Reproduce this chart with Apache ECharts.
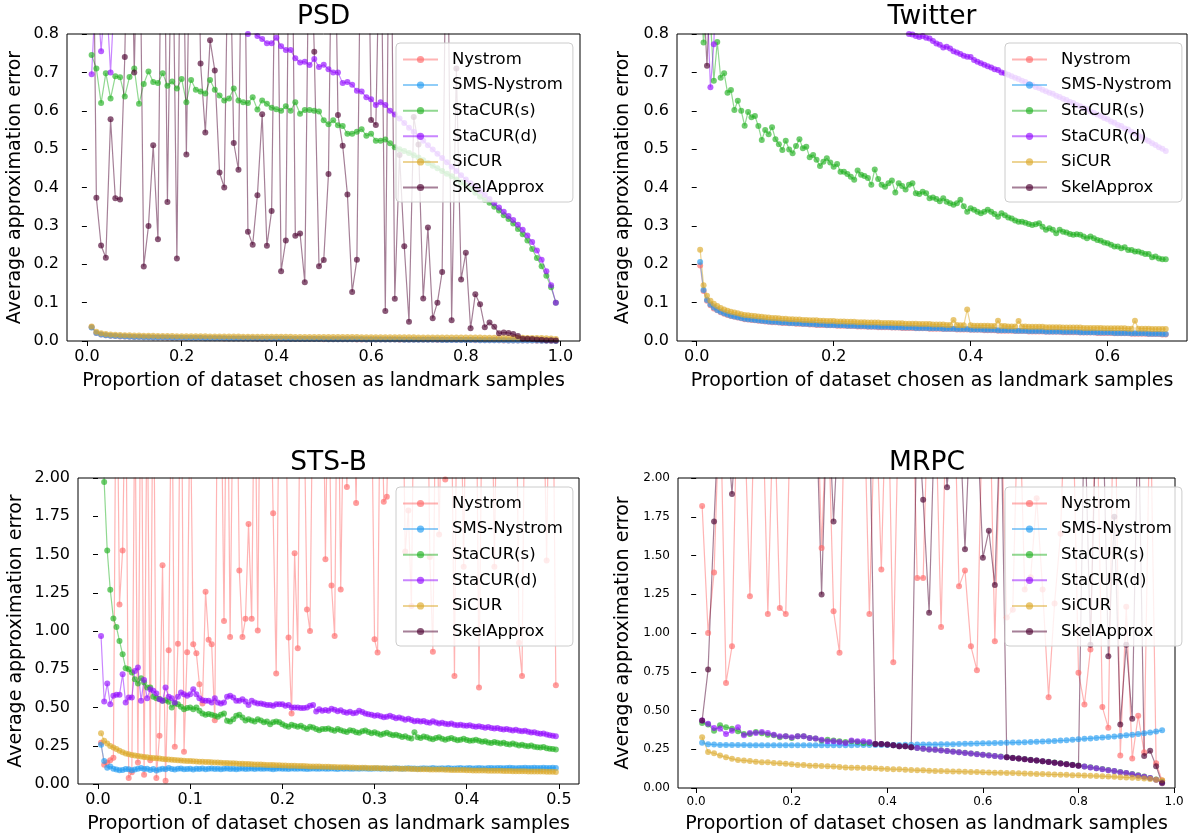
<!DOCTYPE html>
<html><head><meta charset="utf-8">
<script src="https://cdn.jsdelivr.net/npm/echarts@6/dist/echarts.min.js"></script>
<style>html,body{margin:0;padding:0;background:#fff}#c{width:1188px;height:835px}</style>
</head><body><div id="c"></div>
<script>
const methods=['Nystrom','SMS-Nystrom','StaCUR(s)','StaCUR(d)','SiCUR','SkelApprox'];
const titles=['PSD','Twitter','STS-B','MRPC'];
const xName='Proportion of dataset chosen as landmark samples';
const yName='Average approximation error';
const psdXTicks=[0,0.2,0.4,0.6,0.8,1.0];
const twXTicks=[0,0.2,0.4,0.6];
const stsXTicks=[0,0.1,0.2,0.3,0.4,0.5];
const mrpcXTicks=[0,0.2,0.4,0.6,0.8,1.0];

// ---------- PSD ----------
const psdX=[.01,.02,.03,.04,.05,.06,.07,.08,.09,.10,.11,.12,.13,.14,.15,.16,.17,.18,.19,.20,.21,.22,.23,.24,.25,.26,.27,.28,.29,.30,.31,.32,.33,.34,.35,.36,.37,.38,.39,.40,.41,.42,.43,.44,.45,.46,.47,.48,.49,.50,.51,.52,.53,.54,.55,.56,.57,.58,.59,.60,.61,.62,.63,.64,.65,.66,.67,.68,.69,.70,.71,.72,.73,.74,.75,.76,.77,.78,.79,.80,.81,.82,.83,.84,.85,.86,.87,.88,.89,.90,.91,.92,.93,.94,.95,.96,.97,.98,.99];
const psdNys=[.036,.021,.017,.015,.0138,.0128,.012,.0115,.011,.0106,
.0102,.0099,.0096,.0093,.0091,.0089,.0087,.0085,.0083,.0081,
.0079,.0078,.0076,.0075,.0073,.0072,.0071,.0069,.0068,.0067,
.0066,.0065,.0064,.0063,.0062,.0061,.0060,.0059,.0058,.0057,
.0056,.0055,.0054,.0053,.0052,.0052,.0051,.0050,.0049,.0048,
.0047,.0046,.0046,.0045,.0044,.0043,.0042,.0042,.0041,.0040,
.0039,.0038,.0038,.0037,.0036,.0035,.0034,.0034,.0033,.0032,
.0031,.0030,.0030,.0029,.0028,.0027,.0026,.0025,.0025,.0024,
.0023,.0022,.0021,.0020,.0019,.0018,.0017,.0016,.0015,.0014,
.0013,.0012,.0011,.0010,.0009,.0007,.0005,.0003,.0002];
const psdSms=[.035,.021,.017,.015,.014,.013,.0122,.0116,.0111,.0107,
.0103,.0100,.0097,.0094,.0092,.0090,.0088,.0086,.0084,.0082,
.0080,.0079,.0077,.0076,.0074,.0073,.0072,.0070,.0069,.0068,
.0067,.0066,.0065,.0064,.0063,.0062,.0061,.0060,.0059,.0058,
.0057,.0056,.0055,.0054,.0053,.0053,.0052,.0051,.0050,.0049,
.0048,.0047,.0047,.0046,.0045,.0044,.0043,.0043,.0042,.0041,
.0040,.0039,.0039,.0038,.0037,.0036,.0035,.0035,.0034,.0033,
.0032,.0031,.0031,.0030,.0029,.0028,.0027,.0026,.0026,.0025,
.0024,.0023,.0022,.0021,.0020,.0019,.0018,.0017,.0016,.0015,
.0014,.0013,.0012,.0011,.0010,.0008,.0006,.0004,.0002];
const psdStaS=[.745,.710,.620,.698,.632,.690,.687,.637,.688,.710,
.618,.670,.702,.675,.672,.698,.665,.676,.658,.683,
.622,.680,.655,.650,.645,.680,.655,.640,.627,.632,
.658,.627,.622,.620,.635,.603,.627,.618,.608,.604,
.600,.612,.600,.622,.592,.602,.602,.600,.598,.575,
.565,.575,.562,.560,.540,.540,.545,.552,.535,.540,
.522,.522,.525,.515,.505,.500,.495,.490,.484,.478,
.471,.464,.457,.450,.443,.436,.429,.421,.413,.405,
.396,.386,.376,.368,.360,.350,.340,.328,.318,.306,
.292,.278,.262,.240,.216,.195,.170,.140,.100];
const psdStaD=[.695,.950,.755,.920,.700,.950,.940,.930,.930,.920,
.920,.910,.910,.900,.900,.890,.890,.880,.880,.870,
.870,.860,.860,.850,.850,.840,.840,.830,.830,.820,
.820,.815,.810,.800,.805,.795,.787,.776,.776,.790,
.768,.758,.758,.737,.726,.728,.719,.735,.714,.720,
.708,.700,.700,.672,.675,.668,.652,.650,.635,.630,
.615,.622,.615,.600,.590,.580,.568,.556,.545,.534,
.522,.510,.499,.488,.477,.466,.454,.443,.432,.421,
.411,.401,.391,.381,.370,.359,.348,.337,.326,.315,
.303,.290,.275,.258,.236,.212,.182,.145,.100];
const psdSi=[.038,.024,.020,.018,.017,.016,.0155,.015,.0147,.0144,
.0141,.0139,.0137,.0135,.0133,.0131,.0130,.0128,.0127,.0126,
.0125,.0124,.0123,.0122,.0121,.0120,.0119,.0118,.0117,.0116,
.0116,.0115,.0114,.0114,.0113,.0112,.0112,.0111,.0110,.0110,
.0109,.0109,.0108,.0107,.0107,.0106,.0106,.0105,.0105,.0104,
.0104,.0103,.0103,.0102,.0102,.0101,.0101,.0100,.0100,.0099,
.0099,.0098,.0098,.0097,.0097,.0096,.0096,.0095,.0095,.0094,
.0094,.0093,.0093,.0092,.0092,.0091,.0091,.0090,.0090,.0089,
.0089,.0088,.0088,.0087,.0087,.0086,.0086,.0085,.0085,.0084,
.0083,.0082,.0081,.0080,.0078,.0075,.0070,.0062,.0050];
const psdSkel=[1.5,.373,.249,.217,.578,.372,.369,.740,1.4,.700,
1.3,.194,.300,.510,.265,1.5,.362,1.2,.215,1.4,
.486,1.3,1.5,.723,.543,.784,.705,.439,.400,1.2,
.516,.446,1.4,.285,.251,.380,.591,.248,.339,1.3,
.182,.262,1.5,.274,.280,.153,1.2,.754,.195,.211,
.435,1.4,.589,.509,.382,.128,.212,1.3,1.5,.576,
.563,1.2,.078,1.4,.110,.485,.247,.050,.584,.512,
.111,.296,.059,.100,.180,1.3,.054,.710,.160,.230,
.033,.122,.096,.036,.048,.037,.020,.022,.021,.018,
.013,.006,.006,.005,.004,.003,.002,.002,.001];

// ---------- Twitter ----------
const twX=[.005,.01,.015,.02,.025,.03,.035,.04,.045,.05,
.055,.06,.065,.07,.075,.08,.085,.09,.095,.1,
.105,.11,.115,.12,.125,.13,.135,.14,.145,.15,
.155,.16,.165,.17,.175,.18,.185,.19,.195,.2,
.205,.21,.215,.22,.225,.23,.235,.24,.245,.25,
.255,.26,.265,.27,.275,.28,.285,.29,.295,.3,
.305,.31,.315,.32,.325,.33,.335,.34,.345,.35,
.355,.36,.365,.37,.375,.38,.385,.39,.395,.4,
.405,.41,.415,.42,.425,.43,.435,.44,.445,.45,
.455,.46,.465,.47,.475,.48,.485,.49,.495,.5,
.505,.51,.515,.52,.525,.53,.535,.54,.545,.55,
.555,.56,.565,.57,.575,.58,.585,.59,.595,.6,
.605,.61,.615,.62,.625,.63,.635,.64,.645,.65,
.655,.66,.665,.67,.675,.68,.685];
const twNys=[.197,.130,.105,.093,.085,.080,.075,.071,.068,.065,
.063,.061,.059,.057,.056,.055,.054,.053,.052,.051,
.050,.049,.049,.048,.047,.047,.046,.046,.045,.045,
.044,.044,.043,.043,.042,.042,.042,.041,.041,.041,
.040,.040,.040,.039,.039,.039,.038,.038,.038,.037,
.037,.037,.036,.036,.036,.036,.035,.035,.035,.034,
.034,.034,.034,.033,.033,.033,.033,.032,.032,.032,
.032,.031,.031,.031,.031,.030,.030,.030,.030,.029,
.029,.029,.029,.028,.028,.028,.028,.027,.027,.027,
.027,.027,.026,.026,.026,.026,.025,.025,.025,.025,
.025,.024,.024,.024,.024,.024,.023,.023,.023,.023,
.023,.022,.022,.022,.022,.022,.021,.021,.021,.021,
.021,.020,.020,.020,.020,.020,.019,.019,.019,.019,
.019,.018,.018,.018,.018,.017,.017];
const twSms=[.206,.133,.107,.095,.087,.081,.076,.072,.069,.066,
.064,.062,.060,.058,.057,.056,.055,.054,.053,.052,
.051,.050,.050,.049,.048,.048,.047,.047,.046,.046,
.045,.045,.044,.044,.043,.043,.043,.042,.042,.042,
.041,.041,.041,.040,.040,.040,.039,.039,.039,.038,
.038,.038,.037,.037,.037,.037,.036,.036,.036,.035,
.035,.035,.035,.034,.034,.034,.034,.033,.033,.033,
.033,.032,.032,.032,.032,.031,.031,.031,.031,.030,
.030,.030,.030,.029,.029,.029,.029,.028,.028,.028,
.028,.028,.027,.027,.027,.027,.026,.026,.026,.026,
.026,.025,.025,.025,.025,.025,.024,.024,.024,.024,
.024,.023,.023,.023,.023,.023,.022,.022,.022,.022,
.022,.021,.021,.021,.021,.021,.020,.020,.020,.020,
.020,.019,.019,.019,.019,.018,.018];
const twStaS=[.90,.778,.88,.84,.678,.779,.686,.698,.647,.654,
.602,.626,.600,.561,.597,.583,.586,.560,.524,.550,
.539,.557,.526,.513,.498,.522,.499,.489,.508,.526,
.502,.506,.479,.485,.472,.456,.467,.476,.465,.454,
.461,.441,.441,.435,.428,.420,.444,.433,.430,.425,
.407,.447,.422,.407,.402,.411,.418,.387,.411,.404,
.395,.407,.411,.385,.383,.389,.385,.372,.374,.370,
.364,.372,.363,.359,.355,.359,.368,.351,.337,.346,
.342,.337,.333,.337,.342,.337,.331,.324,.333,.328,
.322,.319,.314,.311,.311,.308,.305,.302,.304,.307,
.298,.290,.294,.290,.281,.290,.285,.283,.279,.277,
.278,.277,.272,.268,.272,.268,.263,.261,.257,.255,
.251,.246,.246,.242,.244,.237,.237,.233,.233,.230,
.227,.227,.218,.220,.215,.213,.213];
const twStaD=[.95,.92,.90,.661,.773,1.05,1.04,1.03,1.02,1.01,
1.0,.995,.99,.985,.98,.975,.97,.965,.96,.955,
.95,.945,.94,.935,.93,.925,.92,.915,.91,.905,
.90,.895,.89,.885,.88,.875,.87,.865,.86,.855,
.85,.847,.844,.841,.838,.835,.832,.829,.826,.823,
.82,.818,.816,.814,.812,.81,.809,.808,.807,.806,
.803,.800,.799,.795,.792,.795,.790,.788,.782,.775,
.772,.765,.767,.762,.755,.752,.748,.743,.741,.740,
.732,.728,.724,.720,.716,.713,.708,.706,.700,.698,
.694,.690,.686,.683,.678,.675,.670,.667,.662,.659,
.655,.651,.647,.644,.639,.636,.631,.628,.623,.620,
.615,.612,.607,.604,.598,.595,.590,.586,.581,.578,
.572,.569,.563,.560,.554,.551,.545,.541,.535,.531,
.525,.521,.515,.511,.505,.501,.495];
const twSi=[.238,.145,.118,.105,.097,.091,.086,.082,.079,.076,
.074,.072,.070,.068,.067,.066,.065,.064,.063,.062,
.061,.060,.060,.059,.058,.058,.057,.057,.056,.056,
.055,.055,.054,.054,.054,.053,.053,.052,.052,.052,
.051,.051,.051,.050,.050,.050,.049,.049,.049,.048,
.048,.048,.048,.047,.047,.047,.047,.046,.046,.046,
.045,.045,.045,.045,.044,.044,.044,.044,.043,.043,
.043,.043,.042,.042,.055,.042,.041,.041,.082,.041,
.040,.040,.040,.040,.040,.039,.039,.053,.039,.039,
.038,.038,.038,.052,.038,.038,.037,.037,.037,.037,
.037,.036,.036,.036,.036,.036,.035,.035,.035,.035,
.035,.035,.034,.034,.034,.034,.034,.034,.033,.033,
.033,.033,.033,.033,.033,.032,.032,.053,.032,.032,
.032,.032,.031,.031,.031,.031,.031];
const twSkel=[.95,.90,.717,.95,1.0,1.05,1.1,1.1];

// ---------- STS-B ----------
const stsX=[.0033,.0067,.01,.0133,.0167,.02,.0233,.0267,.03,.0333,.0367,.04,.0433,.0467,.05,.0533,.0567,.06,.0633,.0667,.07,.0733,.0767,.08,.0833,.0867,.09,.0933,.0967,.10,
.1033,.1067,.11,.1133,.1167,.12,.1233,.1267,.13,.1333,.1367,.14,.1433,.1467,.15,.1533,.1567,.16,.1633,.1667,.17,.1733,.1767,.18,.1833,.1867,.19,.1933,.1967,.20,
.2033,.2067,.21,.2133,.2167,.22,.2233,.2267,.23,.2333,.2367,.24,.2433,.2467,.25,.2533,.2567,.26,.2633,.2667,.27,.2733,.2767,.28,.2833,.2867,.29,.2933,.2967,.30,
.3033,.3067,.31,.3133,.3167,.32,.3233,.3267,.33,.3333,.3367,.34,.3433,.3467,.35,.3533,.3567,.36,.3633,.3667,.37,.3733,.3767,.38,.3833,.3867,.39,.3933,.3967,.40,
.4033,.4067,.41,.4133,.4167,.42,.4233,.4267,.43,.4333,.4367,.44,.4433,.4467,.45,.4533,.4567,.46,.4633,.4667,.47,.4733,.4767,.48,.4833,.4867,.49,.4933,.4967];
const stsNys=[.27,.126,.14,.156,.172,3.2,1.174,1.526,2.8,.039,
.076,2.6,.14,3.0,.061,2.7,.156,3.1,.039,.315,
1.43,.022,.874,2.9,.243,.917,3.3,.211,.861,2.6,
.913,.855,.652,.526,1.256,.943,.913,.417,3.0,2.8,
1.065,3.2,.961,2.7,3.1,1.396,.961,1.08,1.70,1.08,
2.9,1.004,3.3,2.6,3.0,2.8,1.77,.722,2.7,3.1,
2.9,.957,.461,1.508,.887,3.2,2.6,1.141,1.0,2.8,
3.0,2.7,3.3,1.469,2.9,1.298,.967,3.1,1.272,2.6,
1.941,3.0,2.8,1.837,3.2,2.7,2.9,3.1,2.6,.946,
.859,3.0,1.844,1.877,2.8,3.2,2.7,3.1,2.9,1.52,
1.787,1.163,3.0,2.6,3.3,2.8,3.1,1.483,.865,2.9,
1.63,2.7,1.99,3.0,2.6,.706,3.2,2.8,1.42,3.1,
2.9,2.7,3.0,.630,2.6,3.3,2.8,3.1,1.42,2.9,
3.0,2.7,3.2,2.6,2.8,3.1,.924,.706,2.9,3.0,
2.7,3.2,2.8,3.1,2.6,1.46,3.0,2.9,.646];
const stsSms=[.256,.150,.107,.115,.100,.094,.090,.092,.098,.096,
.090,.094,.100,.104,.098,.100,.092,.098,.088,.094,
.100,.096,.104,.098,.094,.100,.102,.096,.098,.100,
.094,.100,.098,.102,.096,.100,.102,.098,.100,.097,
.100,.102,.098,.100,.097,.099,.101,.098,.100,.102,
.098,.101,.099,.100,.102,.099,.097,.100,.101,.099,
.100,.098,.101,.100,.099,.102,.100,.098,.100,.101,
.099,.100,.102,.100,.099,.101,.100,.098,.101,.100,
.102,.100,.099,.101,.100,.102,.101,.099,.100,.102,
.101,.100,.102,.101,.099,.101,.103,.101,.100,.102,
.103,.101,.102,.100,.102,.103,.101,.102,.104,.102,
.101,.103,.102,.104,.102,.101,.103,.104,.102,.103,
.104,.102,.103,.105,.103,.102,.104,.105,.103,.104,
.105,.103,.104,.106,.104,.103,.105,.104,.106,.105,
.104,.106,.105,.104,.106,.105,.104,.106,.105];
const stsStaS=[3.0,1.974,1.526,1.27,1.082,1.026,.935,.848,.757,.750,
.728,.685,.657,.691,.663,.630,.630,.570,.561,.555,
.544,.548,.537,.500,.526,.522,.505,.489,.496,.500,
.489,.500,.478,.461,.452,.457,.452,.446,.439,.452,
.461,.413,.409,.424,.446,.452,.435,.415,.424,.415,
.409,.424,.415,.404,.409,.391,.404,.409,.404,.391,
.380,.374,.387,.380,.374,.380,.369,.359,.374,.369,
.359,.352,.359,.359,.362,.355,.348,.360,.352,.345,
.340,.352,.348,.338,.335,.345,.350,.340,.332,.338,
.330,.322,.328,.335,.325,.318,.322,.315,.308,.312,
.302,.298,.338,.305,.300,.310,.305,.298,.292,.300,
.305,.296,.290,.295,.300,.292,.286,.290,.296,.288,
.282,.285,.290,.282,.276,.280,.272,.268,.275,.270,
.264,.270,.262,.258,.265,.258,.252,.256,.250,.246,
.252,.244,.240,.238,.242,.234,.230,.228,.225];
const stsStaD=[.967,.539,.657,.522,.576,.583,.583,.717,.533,.565,
.565,.739,.761,.544,.679,.561,.620,.609,.591,.554,
.544,.630,.570,.561,.533,.570,.598,.587,.576,.587,
.620,.587,.561,.548,.544,.544,.533,.561,.533,.526,
.533,.570,.576,.565,.544,.544,.554,.539,.517,.544,
.533,.526,.526,.522,.517,.517,.511,.522,.522,.522,
.511,.517,.500,.500,.500,.496,.496,.500,.511,.517,
.474,.489,.478,.483,.478,.492,.486,.476,.482,.470,
.466,.472,.462,.466,.478,.470,.460,.456,.452,.446,
.450,.442,.436,.440,.446,.438,.430,.434,.428,.420,
.426,.418,.410,.414,.408,.412,.404,.400,.410,.402,
.396,.400,.394,.390,.396,.388,.384,.388,.382,.380,
.384,.378,.374,.378,.372,.368,.372,.366,.362,.366,
.360,.356,.360,.354,.350,.354,.348,.344,.348,.342,
.336,.338,.332,.328,.330,.324,.318,.316,.312];
const stsSi=[.331,.283,.265,.248,.238,.228,.218,.208,.200,.194,
.190,.186,.183,.180,.177,.175,.172,.170,.168,.166,
.164,.162,.160,.158,.157,.155,.154,.152,.151,.150,
.148,.147,.146,.145,.144,.143,.142,.141,.140,.139,
.138,.137,.136,.135,.134,.133,.132,.131,.130,.129,
.128,.127,.127,.126,.125,.124,.124,.123,.122,.121,
.121,.120,.119,.119,.118,.117,.117,.116,.115,.115,
.114,.114,.113,.113,.112,.111,.111,.110,.110,.109,
.109,.108,.108,.107,.107,.106,.106,.105,.105,.104,
.104,.103,.103,.102,.102,.101,.101,.100,.100,.099,
.099,.098,.098,.097,.097,.096,.096,.095,.095,.094,
.094,.094,.093,.093,.092,.092,.091,.091,.091,.090,
.090,.089,.089,.089,.088,.088,.087,.087,.087,.086,
.086,.085,.085,.085,.084,.084,.083,.083,.083,.082,
.082,.082,.081,.081,.081,.080,.080,.080,.079];
const stsSkel=[3.0,3.0,3.0];

// ---------- MRPC ----------
const mrpcX=[.0125,.025,.0375,.05,.0625,.075,.0875,.1,.1125,.125,
.1375,.15,.1625,.175,.1875,.2,.2125,.225,.2375,.25,
.2625,.275,.2875,.3,.3125,.325,.3375,.35,.3625,.375,
.3875,.4,.4125,.425,.4375,.45,.4625,.475,.4875,.5,
.5125,.525,.5375,.55,.5625,.575,.5875,.6,.6125,.625,
.6375,.65,.6625,.675,.6875,.7,.7125,.725,.7375,.75,
.7625,.775,.7875,.8,.8125,.825,.8375,.85,.8625,.875,
.8875,.9,.9125,.925,.9375,.95,.9625,.975];
const mrpcNys=[1.82,1.0,1.39,2.6,.678,.914,2.8,2.5,1.237,2.9,
2.7,1.123,2.6,1.161,1.123,2.8,3.0,2.5,2.7,2.9,
1.549,2.6,1.141,.872,2.8,2.5,3.0,2.7,1.123,2.6,
1.409,2.9,.811,2.7,2.5,3.0,1.355,1.355,2.8,2.6,
1.039,2.7,2.9,1.301,1.404,.914,.76,2.6,2.8,.946,
2.5,1.10,1.15,2.7,1.28,1.36,1.87,1.28,.585,1.19,
1.64,2.8,2.6,.743,.538,.893,2.7,.522,.388,2.9,
.21,1.17,.19,.466,.23,2.6,.16,.048];
const mrpcSms=[.292,.283,.280,.278,.278,.277,.277,.277,.276,.276,
.276,.276,.276,.276,.276,.276,.276,.276,.276,.276,
.276,.276,.276,.276,.276,.276,.277,.277,.277,.277,
.277,.278,.278,.278,.279,.279,.280,.280,.281,.281,
.282,.283,.283,.284,.285,.286,.287,.288,.289,.290,
.291,.292,.293,.294,.295,.297,.298,.300,.302,.304,
.306,.308,.311,.314,.317,.320,.323,.326,.329,.332,
.336,.340,.344,.348,.353,.358,.364,.372];
const mrpcStaS=[.420,.409,.370,.405,.392,.383,.366,.348,.348,.361,
.353,.344,.340,.327,.334,.323,.334,.334,.323,.319,
.306,.312,.306,.302,.297,.302,.297,.291,.291,.284,
.284,.280,.276,.269,.269,.263,.258,.254,.248,.247,
.243,.239,.235,.231,.227,.223,.219,.215,.211,.207,
.203,.199,.195,.191,.187,.182,.178,.173,.169,.164,
.159,.155,.150,.145,.139,.134,.128,.122,.116,.110,
.104,.097,.090,.082,.074,.065,.055,.038];
const mrpcStaD=[.435,.415,.387,.383,.348,.370,.392,.340,.355,.355,
.361,.355,.344,.334,.334,.327,.334,.334,.323,.319,
.312,.302,.302,.297,.291,.306,.302,.302,.297,.284,
.284,.280,.276,.269,.269,.263,.258,.254,.248,.246,
.242,.238,.234,.230,.226,.222,.218,.214,.210,.206,
.202,.198,.194,.190,.186,.181,.177,.172,.168,.163,
.158,.154,.149,.144,.138,.133,.127,.121,.115,.109,
.102,.096,.089,.081,.073,.064,.054,.035];
const mrpcSi=[.328,.233,.224,.209,.199,.188,.180,.178,.174,.170,
.166,.166,.161,.159,.157,.153,.149,.149,.144,.144,
.142,.140,.138,.136,.133,.131,.131,.129,.129,.127,
.125,.123,.121,.121,.118,.116,.114,.114,.112,.110,
.109,.108,.107,.106,.105,.104,.103,.101,.100,.099,
.098,.097,.096,.095,.093,.092,.091,.090,.088,.087,
.086,.085,.083,.082,.080,.079,.077,.076,.074,.072,
.070,.068,.066,.064,.061,.058,.054,.050];
const mrpcSkel=[.435,.764,1.72,2.6,2.4,1.897,2.5,2.6,2.4,2.7,
2.5,2.8,2.6,2.5,2.7,2.4,2.6,2.8,2.5,2.6,
1.248,2.6,1.72,2.5,2.7,2.4,2.6,2.8,2.5,.284,
.284,.280,.276,.269,.269,.263,2.5,1.86,1.13,2.5,
2.6,1.94,2.4,2.5,1.54,2.5,2.4,1.485,1.66,1.31,
2.5,.198,.194,.190,.186,.181,.177,.172,.168,.163,
.158,.154,.149,.144,2.5,.925,2.5,2.6,.85,1.75,
.41,.925,.446,2.5,.206,.24,.141,.03];

// ---------- build ----------
const colors=['#ff6969','#229bf1','#22b122','#940cff','#dba929','#4c0030'];
const panels=[
 {x:psdX, ys:[psdNys,psdSms,psdStaS,psdStaD,psdSi,psdSkel], xt:psdXTicks},
 {x:twX, ys:[twNys,twSms,twStaS,twStaD,twSi,twSkel], xt:twXTicks},
 {x:stsX, ys:[stsNys,stsSms,stsStaS,stsStaD,stsSi,stsSkel], xt:stsXTicks},
 {x:mrpcX, ys:[mrpcNys,mrpcSms,mrpcStaS,mrpcStaD,mrpcSi,mrpcSkel], xt:mrpcXTicks}
];
const layout=[
 {grid:{left:67,top:34,width:513,height:307}, xr:[-0.042,1.041], ymax:0.8, yint:0.1, ydec:1, fs:16, ygap:42, xgap:31, lg:[396,43], tx:323.5, ty:4},
 {grid:{left:677,top:34,width:510,height:307}, xr:[-0.0288,0.716], ymax:0.8, yint:0.1, ydec:1, fs:16, ygap:44, xgap:31, lg:[1005,43], tx:932, ty:4},
 {grid:{left:78,top:478,width:501,height:307}, xr:[-0.0217,0.5218], ymax:2, yint:0.25, ydec:2, fs:16, ygap:52, xgap:31, lg:[396,487], tx:328.5, ty:450},
 {grid:{left:678,top:478,width:497,height:311}, xr:[-0.038,1.002], ymax:2, yint:0.25, ydec:2, fs:12, ygap:45, xgap:27, lg:[1005,487], tx:927, ty:450}
];
const FONT='DejaVu Sans';
const option={animation:false,textStyle:{fontFamily:FONT,color:'#000'},
 title:[],grid:[],xAxis:[],yAxis:[],legend:[],series:[]};
layout.forEach((L,p)=>{
 option.title.push({text:titles[p],left:L.tx,top:L.ty,textAlign:'center',padding:0,
   textStyle:{fontFamily:FONT,fontSize:26.5,fontWeight:'normal',color:'#000'}});
 option.grid.push(Object.assign({show:true,borderColor:'#000',borderWidth:1,containLabel:false,z:3},L.grid));
 option.xAxis.push({type:'value',gridIndex:p,min:L.xr[0],max:L.xr[1],
   name:xName,nameLocation:'middle',nameGap:L.xgap,
   nameTextStyle:{fontFamily:FONT,fontSize:19,color:'#000'},
   axisLine:{show:false},splitLine:{show:false},
   axisTick:{show:true,inside:false,length:5,lineStyle:{color:'#000'},customValues:panels[p].xt},
   axisLabel:{fontFamily:FONT,fontSize:L.fs,color:'#000',margin:8,customValues:panels[p].xt,
     formatter:v=>v.toFixed(1)}});
 option.yAxis.push({type:'value',gridIndex:p,min:0,max:L.ymax,interval:L.yint,
   name:yName,nameLocation:'middle',nameGap:L.ygap,
   nameTextStyle:{fontFamily:FONT,fontSize:19,color:'#000'},
   axisLine:{show:false},splitLine:{show:false},
   axisTick:{show:true,inside:false,length:5,lineStyle:{color:'#000'}},
   axisLabel:{fontFamily:FONT,fontSize:L.fs,color:'#000',margin:8,
     formatter:v=>v.toFixed(L.ydec)}});
 option.legend.push({data:methods,orient:'vertical',left:L.lg[0],top:L.lg[1],z:50,
   backgroundColor:'rgba(255,255,255,0.8)',borderColor:'#cccccc',borderWidth:1,borderRadius:4,
   padding:[8,10,6,6],itemGap:8.6,itemWidth:35,itemHeight:9,selectedMode:false,
   textStyle:{fontFamily:FONT,fontSize:16.5,color:'#000',lineHeight:16,padding:[0,0,0,9]}});
 const P=panels[p];
 methods.forEach((m,i)=>{
   option.series.push({type:'line',name:m,xAxisIndex:p,yAxisIndex:p,
     data:P.ys[i].map((v,j)=>[P.x[j],v]),
     symbol:'circle',symbolSize:6,showSymbol:true,showAllSymbol:true,clip:true,
     lineStyle:{width:1.2,color:colors[i],opacity:0.5},
     itemStyle:{color:colors[i],opacity:0.65},
     emphasis:{disabled:true},silent:true,z:2});
 });
});
const chart=echarts.init(document.getElementById('c'),null,{renderer:'canvas'});
chart.setOption(option);
</script></body></html>
